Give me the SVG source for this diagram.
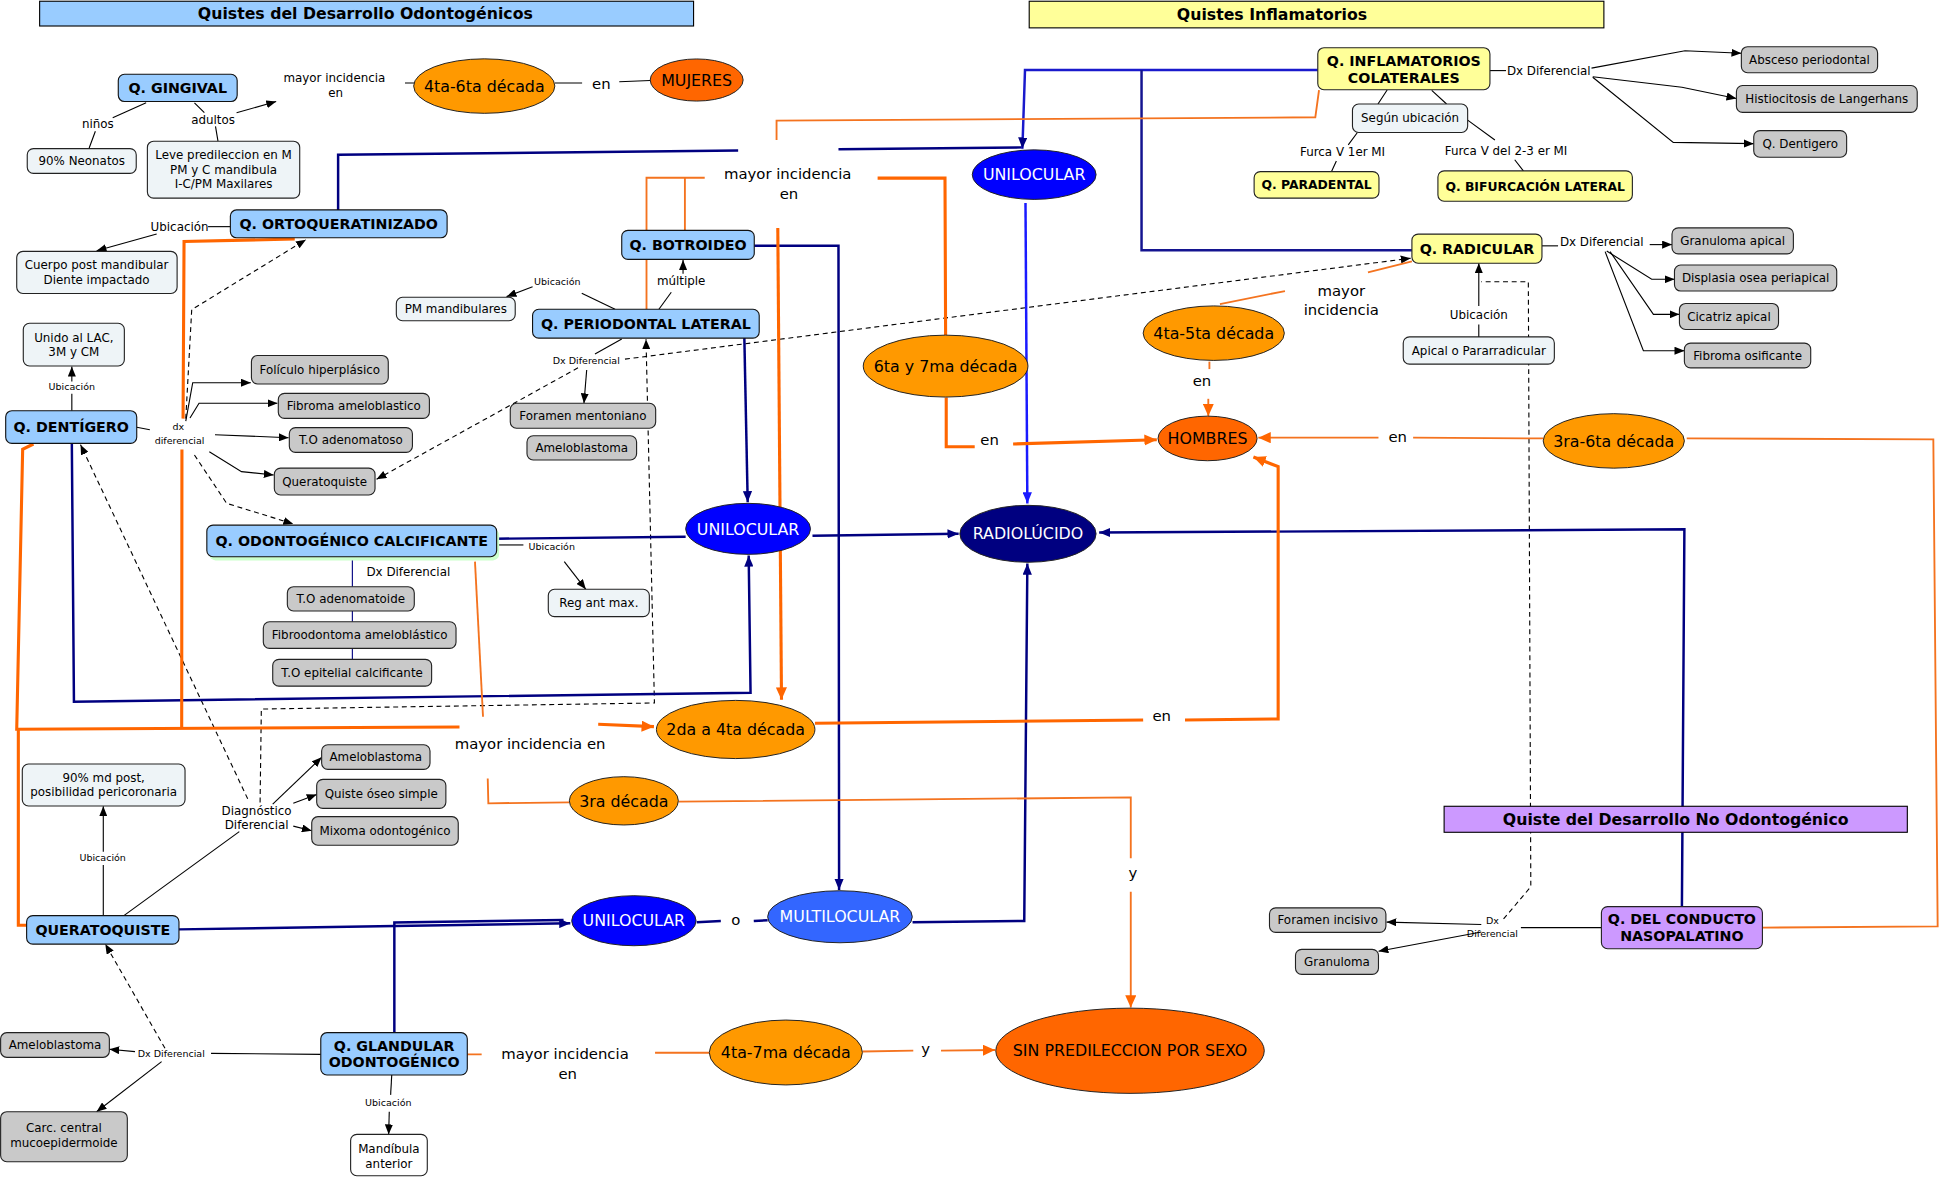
<svg xmlns="http://www.w3.org/2000/svg" width="1942" height="1181" viewBox="0 0 1942 1181">
<defs>
<style>
text{font-family:"DejaVu Sans",Verdana,sans-serif;fill:#000;text-anchor:middle}
.hb{font-weight:bold;font-size:12.7px}
.nb{font-weight:bold;font-size:11.5px}
.nbs{font-weight:bold;font-size:10px}
.t{font-size:9.6px}
.s{font-size:7.7px}
.m{font-size:12px}
.e{font-size:12.8px}
.w{fill:#fff}
.cb{fill:#99ccff;stroke:#111;stroke-width:0.9}
.gy{fill:#c9c9c9;stroke:#222;stroke-width:0.9}
.lt{fill:#eef4f7;stroke:#222;stroke-width:0.9}
.wh{fill:#fff;stroke:#222;stroke-width:0.9}
.yl{fill:#ffff99;stroke:#222;stroke-width:0.9}
.pu{fill:#cc99ff;stroke:#222;stroke-width:0.9}
.el{stroke:#222;stroke-width:0.8}
.ln{fill:none;stroke:#000;stroke-width:0.9}
.dash{fill:none;stroke:#000;stroke-width:0.9;stroke-dasharray:4 3}
.nv{fill:none;stroke:#000080;stroke-width:2}
.bl{fill:none;stroke:#1a1aff;stroke-width:2}
.o1{fill:none;stroke:#f4731f;stroke-width:1.5}
.o2{fill:none;stroke:#ff6600;stroke-width:2.5}
</style>
<marker id="ak" viewBox="0 0 10 10" refX="10" refY="5" markerWidth="8" markerHeight="6.5" markerUnits="userSpaceOnUse" orient="auto" preserveAspectRatio="none"><path d="M0,0L10,5L0,10z" fill="#000"/></marker>
<marker id="an" viewBox="0 0 10 10" refX="10" refY="5" markerWidth="9" markerHeight="7.5" markerUnits="userSpaceOnUse" orient="auto" preserveAspectRatio="none"><path d="M0,0L10,5L0,10z" fill="#000080"/></marker>
<marker id="ab" viewBox="0 0 10 10" refX="10" refY="5" markerWidth="9" markerHeight="7.5" markerUnits="userSpaceOnUse" orient="auto" preserveAspectRatio="none"><path d="M0,0L10,5L0,10z" fill="#1a1aff"/></marker>
<marker id="ao" viewBox="0 0 10 10" refX="10" refY="5" markerWidth="10" markerHeight="9" markerUnits="userSpaceOnUse" orient="auto" preserveAspectRatio="none"><path d="M0,0L10,5L0,10z" fill="#ff6600"/></marker>
</defs>
<rect width="1942" height="1181" fill="#fff"/>
<g transform="scale(1.23852)">
<g id="connectors">
<path class="ln" d="M118,83L91,95M77,106L72,119.5M157,83L165,91M174,102L176,114"/>
<path class="ln" d="M191,91L223,82" marker-end="url(#ak)"/>
<path class="ln" d="M327,67L335,67M448,67L470,67M500,66L525,65"/>
<path class="ln" d="M168,183L186,183"/>
<path class="ln" d="M126.5,189L78,202.5" marker-end="url(#ak)"/>
<path class="ln" d="M58,331.6L58,318"/>
<path class="ln" d="M58,308L58,296" marker-end="url(#ak)"/>
<path class="ln" d="M110.4,345L121,347"/>
<path class="ln" d="M150,340L155.6,309L202.5,309" marker-end="url(#ak)"/>
<path class="ln" d="M153.4,337.5L160.7,325.6L224,325.6" marker-end="url(#ak)"/>
<path class="ln" d="M173.6,351L233,353.4" marker-end="url(#ak)"/>
<path class="ln" d="M169,364.7L195,380.8L221,383.5" marker-end="url(#ak)"/>
<path class="dash" d="M157,367.4L183,406.4L236.8,423" marker-end="url(#ak)"/>
<path class="dash" d="M150,338L154.8,250L247,193.5" marker-end="url(#ak)"/>
<path class="ln" d="M496.6,249.7L469.7,236.7"/>
<path class="ln" d="M430,231.5L409,239.5" marker-end="url(#ak)"/>
<path class="ln" d="M532,249.7L542,236"/>
<path class="ln" d="M551.5,221L551.5,210" marker-end="url(#ak)"/>
<path class="ln" d="M502,273.7L480.4,285.8"/>
<path class="ln" d="M473.7,298.7L471.5,325.6" marker-end="url(#ak)"/>
<path class="dash" d="M504.6,290L1139,208.5" marker-end="url(#ak)"/>
<path class="dash" d="M466.7,297L304,387" marker-end="url(#ak)"/>
<path class="dash" d="M210,648L211,572.5L528.4,567.6L521.6,274" marker-end="url(#ak)"/>
<path class="dash" d="M200,645L65,359" marker-end="url(#ak)"/>
<path class="ln" d="M402,440L422.6,440"/>
<path class="ln" d="M455.6,453.5L473,475.8" marker-end="url(#ak)"/>
<path d="M284.5,449.5V473.7M284.5,493.3V502M284.5,523.5V532.4" fill="none" stroke="#000080" stroke-width="0.9"/>
<path class="ln" d="M83.4,739.3L83.4,698.4"/>
<path class="ln" d="M83.4,687.7L83.4,651" marker-end="url(#ak)"/>
<path class="ln" d="M100,739.3L193.2,671.5"/>
<path class="ln" d="M220.2,649.2L259.7,611.5" marker-end="url(#ak)"/>
<path class="ln" d="M236.8,648.6L255.7,641.5" marker-end="url(#ak)"/>
<path class="ln" d="M236.8,667L251.7,670.8" marker-end="url(#ak)"/>
<path class="ln" d="M259,851.3L170.4,850.5"/>
<path class="ln" d="M109,849.1L88.3,847.2" marker-end="url(#ak)"/>
<path class="ln" d="M130.5,857.2L78,897.6" marker-end="url(#ak)"/>
<path class="dash" d="M133.2,846.4L85,762.2" marker-end="url(#ak)"/>
<path class="ln" d="M316.3,868L315.4,884"/>
<path class="ln" d="M314.3,897.6L313.8,915.9" marker-end="url(#ak)"/>
<path class="ln" d="M1203,57L1216,57"/>
<path class="ln" d="M1285,55L1360.5,41L1406,43" marker-end="url(#ak)"/>
<path class="ln" d="M1286,62L1358,70.5L1402,79.5" marker-end="url(#ak)"/>
<path class="ln" d="M1286,62.4L1351,115L1416,116" marker-end="url(#ak)"/>
<path class="ln" d="M1120,72.7L1112.6,84M1156,73L1168,84"/>
<path class="ln" d="M1096,107L1088.6,117M1079,130L1075,138.6"/>
<path class="ln" d="M1185,97L1207,113M1223,129L1230,138"/>
<path class="ln" d="M1245,198.5L1258,198.5"/>
<path class="ln" d="M1332,197.5L1350,197.5" marker-end="url(#ak)"/>
<path class="ln" d="M1297.3,202.7L1333.6,225.5L1352,225.5" marker-end="url(#ak)"/>
<path class="ln" d="M1300,203.2L1335,253.8L1356,253.8" marker-end="url(#ak)"/>
<path class="ln" d="M1296,203.2L1326.9,283.2L1360,283.2" marker-end="url(#ak)"/>
<path class="ln" d="M1194,272L1194,262"/>
<path class="ln" d="M1194,247L1194,212.5" marker-end="url(#ak)"/>
<path class="dash" d="M1214,742L1236,716L1234,227.5L1196,227.5" stroke="#444"/>
<path class="ln" d="M1293,749L1228,749"/>
<path class="ln" d="M1196,746.5L1119.5,744.5" marker-end="url(#ak)"/>
<path class="ln" d="M1196,752.5L1113,768" marker-end="url(#ak)"/>
<path class="nv" d="M273,169.5L273,125L596,121.5M677,120.5L826,119"/>
<path fill="none" stroke="#1a1acc" stroke-width="2" d="M1064,56.5L827.6,56.5L825.5,120" marker-end="url(#an)"/>
<path fill="none" stroke="#141490" stroke-width="2" d="M921.7,56.5L921.7,202L1140,202"/>
<path class="bl" d="M828,164L829.5,406.5" marker-end="url(#ab)"/>
<path class="nv" d="M609,198.4L677,198.4L677.5,718.5" marker-end="url(#an)"/>
<path class="nv" d="M601,273L603.7,405.5" marker-end="url(#an)"/>
<path class="nv" d="M401,435L553.6,433.3"/>
<path class="nv" d="M58,358L59.7,566.5L606,559.3L604.5,448.5" marker-end="url(#an)"/>
<path class="nv" d="M656,432.5L774,431" marker-end="url(#an)"/>
<path class="nv" d="M144.5,750.4L318.9,747.7L460.5,745.5" marker-end="url(#an)"/>
<path class="nv" d="M318.4,833.8L318.4,744.8L455,742.8" stroke-width="1.5"/>
<path class="nv" d="M562.5,744.6L582,743.7M608.6,743.7L619.8,743" stroke-width="1.5"/>
<path class="nv" d="M736.8,744.7L827,743.6L829.5,455" marker-end="url(#an)"/>
<path class="nv" d="M1358,732L1360,427.4L887.5,430" marker-end="url(#an)"/>
<path class="o1" d="M1065,72.7L1062,94.7L627,97.4L627,113"/>
<path class="o1" d="M553,186L553,143.5L569,143.5M522,249.7L522,143.5L553,143.5"/>
<path class="o2" d="M708.6,143.8L763,143.8L763.5,270.5"/>
<path class="o2" d="M764,321L764,360.7L787,360.7"/>
<path class="o2" d="M818,358.5L934,355" marker-end="url(#ao)"/>
<path class="o2" d="M628,184L631,565" stroke-width="1.8" marker-end="url(#ao)"/>
<path class="o1" d="M976.5,292L976.5,298"/>
<path class="o1" d="M975.6,322L975.6,336" marker-end="url(#ao)"/>
<path class="o1" d="M1140,211L1104.5,220M1037.5,235L985,245.5"/>
<path class="o2" d="M658,584L923,581.3"/>
<path class="o2" d="M956.8,581.3L1032,580.5L1032,376.8L1012,369" marker-end="url(#ao)"/>
<path class="o1" d="M1246,354L1141,353.4"/>
<path class="o1" d="M1113,353.4L1016,353.4" marker-end="url(#ao)"/>
<path class="o1" d="M1423,749L1564.5,748L1561,354.7L1361.9,354"/>
<path class="o2" d="M27,358.5L18.3,362.8L13.5,588.8L371,587"/>
<path class="o2" stroke-width="1.8" d="M21.5,747L14.8,747L14.8,589"/>
<path class="o2" stroke-width="1.8" d="M238,193L148.6,195L147.8,338M146.9,363L146.7,587"/>
<path class="o2" d="M483,584.8L528,586.7" marker-end="url(#ao)"/>
<path class="o1" d="M383.5,453.5L390,578.7"/>
<path class="o1" d="M393.8,628.5L394.3,648.6L459.5,647.8"/>
<path class="o1" d="M548,647.3L913,643.8L913,693M913,720L913,813.5" marker-end="url(#ao)"/>
<path class="o1" d="M377.3,851.3L388.9,851.3M528.9,850L572.7,850M696.5,849L737.4,848.3M759.8,848.3L803.5,847.8" marker-end="url(#ao)"/>
</g>
<g id="labels">
<text class="t" x="270" y="66.5">mayor incidencia</text>
<text class="t" x="271" y="78.5">en</text>
<text class="t" x="79" y="103.5">niños</text>
<text class="t" x="172" y="100.5">adultos</text>
<text class="m" x="485.5" y="71.5">en</text>
<text class="t" x="145" y="186.3">Ubicación</text>
<text class="s" x="58" y="315">Ubicación</text>
<text class="s" x="144" y="347.5">dx</text>
<text class="s" x="145" y="358.5">diferencial</text>
<text class="m" x="636" y="144.3">mayor incidencia</text>
<text class="m" x="637" y="160.3">en</text>
<text class="s" x="450" y="230.2">Ubicación</text>
<text class="t" x="550" y="230">múltiple</text>
<text class="s" x="473.4" y="293.5">Dx Diferencial</text>
<text class="s" x="445.5" y="444.3">Ubicación</text>
<text class="t" x="329.7" y="465">Dx Diferencial</text>
<text class="m" x="428" y="605">mayor incidencia en</text>
<text class="m" x="799" y="359.5">en</text>
<text class="m" x="970.5" y="312">en</text>
<text class="m" x="1083" y="239">mayor</text>
<text class="m" x="1083" y="254.5">incidencia</text>
<text class="m" x="1128.5" y="356.5">en</text>
<text class="m" x="938" y="582">en</text>
<text class="m" x="914.8" y="709">y</text>
<text class="t" x="207.2" y="657.8">Diagnóstico</text>
<text class="t" x="207.2" y="669.6">Diferencial</text>
<text class="s" x="82.9" y="695">Ubicación</text>
<text class="s" x="138.3" y="853.3">Dx Diferencial</text>
<text class="s" x="313.5" y="892.7">Ubicación</text>
<text class="m" x="456.2" y="854.7">mayor incidencia</text>
<text class="m" x="458.4" y="870.8">en</text>
<text class="m" x="747.4" y="851">y</text>
<text class="m" x="594" y="746.5">o</text>
<text class="t" x="1250.5" y="60.3">Dx Diferencial</text>
<text class="t" x="1084" y="125.8">Furca V 1er MI</text>
<text class="t" x="1216" y="125.2">Furca V del 2-3 er MI</text>
<text class="t" x="1293.3" y="198.5">Dx Diferencial</text>
<text class="t" x="1194" y="257.6">Ubicación</text>
<text class="s" x="1205" y="746">Dx</text>
<text class="s" x="1205" y="756.5">Diferencial</text>
</g>
<g id="h-odontogenicos"><rect x="32" y="1" width="528" height="20" fill="#99ccff" stroke="#000" stroke-width="0.9"/><text class="hb" x="295" y="15.6">Quistes del Desarrollo Odontogénicos</text></g>
<g id="h-inflamatorios"><rect x="831" y="1" width="464" height="21.5" fill="#ffff99" stroke="#000" stroke-width="0.9"/><text class="hb" x="1027" y="16.3">Quistes Inflamatorios</text></g>
<g id="h-no-odontogenico"><rect x="1166" y="651" width="374" height="21" fill="#cc99ff" stroke="#000" stroke-width="0.9"/><text class="hb" x="1353" y="666">Quiste del Desarrollo No Odontogénico</text></g>
<g id="gingival"><rect class="cb" x="95.5" y="60" width="96" height="22" rx="5"/><text class="nb" x="143.5" y="75.2">Q. GINGIVAL</text></g>
<g id="ortoqueratinizado"><rect class="cb" x="186" y="169.5" width="175" height="22.5" rx="5"/><text class="nb" x="273.5" y="184.9">Q. ORTOQUERATINIZADO</text></g>
<g id="botroideo"><rect class="cb" x="502" y="186" width="107" height="23.4" rx="5"/><text class="nb" x="555.5" y="201.8">Q. BOTROIDEO</text></g>
<g id="periodontal"><rect class="cb" x="430" y="249.7" width="183" height="23.3" rx="5"/><text class="nb" x="521.5" y="265.4">Q. PERIODONTAL LATERAL</text></g>
<g id="dentigero"><rect class="cb" x="4.6" y="331.6" width="105.8" height="26.4" rx="5"/><text class="nb" x="57.5" y="348.8">Q. DENTÍGERO</text></g>
<g id="calcificante"><rect x="169" y="427" width="234" height="25.5" rx="5" fill="#ccffcc"/><rect class="cb" x="167" y="424" width="234" height="25.5" rx="5"/><text class="nb" x="284" y="440.8">Q. ODONTOGÉNICO CALCIFICANTE</text></g>
<g id="queratoquiste"><rect class="cb" x="21.5" y="739.3" width="123" height="23" rx="5"/><text class="nb" x="83" y="754.8">QUERATOQUISTE</text></g>
<g id="glandular"><rect class="cb" x="259" y="833.8" width="118.3" height="34.2" rx="5"/><text class="nb" x="318.2" y="848.3">Q. GLANDULAR</text><text class="nb" x="318.2" y="861.8">ODONTOGÉNICO</text></g>
<g id="inflamatorios"><rect class="yl" x="1064" y="38.5" width="139" height="34" rx="5"/><text class="nb" x="1133.5" y="53.3">Q. INFLAMATORIOS</text><text class="nb" x="1133.5" y="66.7">COLATERALES</text></g>
<g id="paradental"><rect class="yl" x="1012.6" y="138.6" width="100.8" height="21.4" rx="5"/><text class="nbs" x="1063" y="152.8">Q. PARADENTAL</text></g>
<g id="bifurcacion"><rect class="yl" x="1161" y="138" width="157" height="24.5" rx="5"/><text class="nbs" x="1239.5" y="154">Q. BIFURCACIÓN LATERAL</text></g>
<g id="radicular"><rect class="yl" x="1140" y="189" width="105" height="23.5" rx="5"/><text class="nb" x="1192.5" y="204.8">Q. RADICULAR</text></g>
<g id="nasopalatino"><rect class="pu" x="1293" y="732" width="130" height="34" rx="5"/><text class="nb" x="1358" y="746.3">Q. DEL CONDUCTO</text><text class="nb" x="1358" y="760">NASOPALATINO</text></g>
<g id="e-4ta6ta"><ellipse class="el" cx="391" cy="69.5" rx="57" ry="22" fill="#ff9900"/><text class="e" x="391" y="74">4ta-6ta década</text></g>
<g id="e-mujeres"><ellipse class="el" cx="562.5" cy="64.6" rx="37.5" ry="17" fill="#ff6600"/><text class="e" x="562.5" y="69.2">MUJERES</text></g>
<g id="e-unilocular1"><ellipse class="el" cx="835" cy="141" rx="50" ry="20" fill="#0000ff"/><text class="e w" x="835" y="145.6">UNILOCULAR</text></g>
<g id="e-6ta7ma"><ellipse class="el" cx="763.5" cy="295.6" rx="66.5" ry="25" fill="#ff9900"/><text class="e" x="763.5" y="300.2">6ta y 7ma década</text></g>
<g id="e-4ta5ta"><ellipse class="el" cx="980" cy="269" rx="57" ry="22" fill="#ff9900"/><text class="e" x="980" y="273.6">4ta-5ta década</text></g>
<g id="e-hombres"><ellipse class="el" cx="975" cy="354" rx="40" ry="18" fill="#ff6600"/><text class="e" x="975" y="358.6">HOMBRES</text></g>
<g id="e-3ra6ta"><ellipse class="el" cx="1303" cy="356" rx="57" ry="22" fill="#ff9900"/><text class="e" x="1303" y="360.6">3ra-6ta década</text></g>
<g id="e-radiolucido"><ellipse class="el" cx="830" cy="431" rx="55" ry="23" fill="#000080"/><text class="e w" x="830" y="435.6">RADIOLÚCIDO</text></g>
<g id="e-unilocular2"><ellipse class="el" cx="604" cy="427" rx="50.4" ry="20.6" fill="#0000ff"/><text class="e w" x="604" y="431.6">UNILOCULAR</text></g>
<g id="e-2da4ta"><ellipse class="el" cx="594" cy="589" rx="64" ry="23.5" fill="#ff9900"/><text class="e" x="594" y="593.6">2da a 4ta década</text></g>
<g id="e-3ra"><ellipse class="el" cx="503.7" cy="646.6" rx="44" ry="19.5" fill="#ff9900"/><text class="e" x="503.7" y="651.2">3ra década</text></g>
<g id="e-unilocular3"><ellipse class="el" cx="511.8" cy="743.4" rx="50.2" ry="20.2" fill="#0000ff"/><text class="e w" x="511.8" y="748">UNILOCULAR</text></g>
<g id="e-multilocular"><ellipse class="el" cx="678.2" cy="740.2" rx="58.4" ry="21" fill="#3366ff"/><text class="e w" x="678.2" y="744.8">MULTILOCULAR</text></g>
<g id="e-4ta7ma"><ellipse class="el" cx="634.5" cy="849.8" rx="61.8" ry="26.2" fill="#ff9900"/><text class="e" x="634.5" y="854.4">4ta-7ma década</text></g>
<g id="e-sinpred"><ellipse class="el" cx="912.4" cy="848.4" rx="108.4" ry="34.4" fill="#ff6600"/><text class="e" x="912.4" y="853">SIN PREDILECCION POR SEXO</text></g>
<g id="neonatos"><rect class="lt" x="22" y="120" width="88" height="20" rx="5"/><text class="t" x="66" y="133.5">90% Neonatos</text></g>
<g id="leve"><rect class="lt" x="119" y="114" width="123" height="46" rx="5"/><text class="t" x="180.5" y="128.5">Leve predileccion en M</text><text class="t" x="180.5" y="140.5">PM y C mandibula</text><text class="t" x="180.5" y="152">I-C/PM Maxilares</text></g>
<g id="cuerpo"><rect class="lt" x="13.5" y="203" width="129.5" height="34" rx="5"/><text class="t" x="78" y="217.5">Cuerpo post mandibular</text><text class="t" x="78" y="229">Diente impactado</text></g>
<g id="unido"><rect class="lt" x="18.8" y="261" width="81.6" height="34.5" rx="5"/><text class="t" x="59.6" y="276">Unido al LAC,</text><text class="t" x="59.6" y="287.5">3M y CM</text></g>
<g id="pm-mand"><rect class="lt" x="320" y="240" width="96" height="19" rx="5"/><text class="t" x="368" y="252.8">PM mandibulares</text></g>
<g id="foliculo"><rect class="gy" x="203" y="287" width="110.5" height="23" rx="5"/><text class="t" x="258.2" y="301.8">Folículo hiperplásico</text></g>
<g id="fibroma-am"><rect class="gy" x="224.7" y="317.6" width="122" height="20.2" rx="5"/><text class="t" x="285.7" y="331">Fibroma ameloblastico</text></g>
<g id="to-adenomatoso"><rect class="gy" x="233.6" y="345.3" width="99.4" height="20" rx="5"/><text class="t" x="283.3" y="358.6">T.O adenomatoso</text></g>
<g id="queratoquiste-dx"><rect class="gy" x="221.5" y="378" width="81.3" height="21.7" rx="5"/><text class="t" x="262.1" y="392.2">Queratoquiste</text></g>
<g id="foramen-ment"><rect class="gy" x="412" y="325.6" width="117.4" height="20.2" rx="5"/><text class="t" x="470.7" y="339">Foramen mentoniano</text></g>
<g id="amelo1"><rect class="gy" x="425.5" y="351.8" width="88.5" height="19.6" rx="5"/><text class="t" x="469.7" y="365">Ameloblastoma</text></g>
<g id="reg-ant"><rect class="lt" x="442.7" y="475.8" width="81.6" height="22.1" rx="5"/><text class="t" x="483.5" y="490.2">Reg ant max.</text></g>
<g id="to-adenomatoide"><rect class="gy" x="232" y="473.7" width="102.5" height="19.6" rx="5"/><text class="t" x="283.2" y="486.9">T.O adenomatoide</text></g>
<g id="fibroodontoma"><rect class="gy" x="212.6" y="502" width="155.6" height="21.5" rx="5"/><text class="t" x="290.4" y="516.1">Fibroodontoma ameloblástico</text></g>
<g id="to-epitelial"><rect class="gy" x="220.2" y="532.4" width="128.3" height="21.6" rx="5"/><text class="t" x="284.3" y="546.6">T.O epitelial calcificante</text></g>
<g id="md-post"><rect class="lt" x="18" y="616.9" width="131.4" height="33.9" rx="5"/><text class="t" x="83.7" y="631">90% md post,</text><text class="t" x="83.7" y="642.6">posibilidad pericoronaria</text></g>
<g id="amelo2"><rect class="gy" x="259.7" y="601.3" width="87.5" height="19.9" rx="5"/><text class="t" x="303.4" y="614.6">Ameloblastoma</text></g>
<g id="quiste-oseo"><rect class="gy" x="255.7" y="629.3" width="104.3" height="23.4" rx="5"/><text class="t" x="307.8" y="644.3">Quiste óseo simple</text></g>
<g id="mixoma"><rect class="gy" x="251.7" y="659.4" width="118.3" height="23.1" rx="5"/><text class="t" x="310.8" y="674.3">Mixoma odontogénico</text></g>
<g id="amelo3"><rect class="gy" x="0.5" y="833.8" width="87.8" height="19.9" rx="5"/><text class="t" x="44.4" y="847.1">Ameloblastoma</text></g>
<g id="carc"><rect class="gy" x="0.5" y="897.6" width="102.3" height="40.4" rx="5"/><text class="t" x="51.6" y="914">Carc. central</text><text class="t" x="51.6" y="925.8">mucoepidermoide</text></g>
<g id="mandibula"><rect class="wh" x="283.1" y="915.9" width="61.9" height="33.4" rx="5"/><text class="t" x="314" y="930.7">Mandíbula</text><text class="t" x="314" y="942.8">anterior</text></g>
<g id="segun"><rect class="lt" x="1092" y="84" width="93" height="23" rx="5"/><text class="t" x="1138.5" y="98.8">Según ubicación</text></g>
<g id="apical"><rect class="lt" x="1133" y="272" width="122" height="22" rx="5"/><text class="t" x="1194" y="286.3">Apical o Pararradicular</text></g>
<g id="absceso"><rect class="gy" x="1406" y="37.7" width="110" height="21" rx="5"/><text class="t" x="1461" y="51.5">Absceso periodontal</text></g>
<g id="histiocitosis"><rect class="gy" x="1402" y="69" width="146" height="21.7" rx="5"/><text class="t" x="1475" y="83.2">Histiocitosis de Langerhans</text></g>
<g id="q-dentigero"><rect class="gy" x="1416" y="105.5" width="75" height="21.5" rx="5"/><text class="t" x="1453.5" y="119.5">Q. Dentigero</text></g>
<g id="granuloma-ap"><rect class="gy" x="1350" y="184" width="98" height="21" rx="5"/><text class="t" x="1399" y="197.8">Granuloma apical</text></g>
<g id="displasia"><rect class="gy" x="1352" y="214" width="131" height="21" rx="5"/><text class="t" x="1417.5" y="227.8">Displasia osea periapical</text></g>
<g id="cicatriz"><rect class="gy" x="1356" y="245" width="80" height="21" rx="5"/><text class="t" x="1396" y="258.8">Cicatriz apical</text></g>
<g id="fibroma-os"><rect class="gy" x="1360" y="277" width="102" height="20" rx="5"/><text class="t" x="1411" y="290.3">Fibroma osificante</text></g>
<g id="foramen-inc"><rect class="gy" x="1025" y="733" width="94" height="19.8" rx="5"/><text class="t" x="1072" y="746.2">Foramen incisivo</text></g>
<g id="granuloma"><rect class="gy" x="1046" y="766.5" width="67" height="20.2" rx="5"/><text class="t" x="1079.5" y="780">Granuloma</text></g>
</g>
</svg>
